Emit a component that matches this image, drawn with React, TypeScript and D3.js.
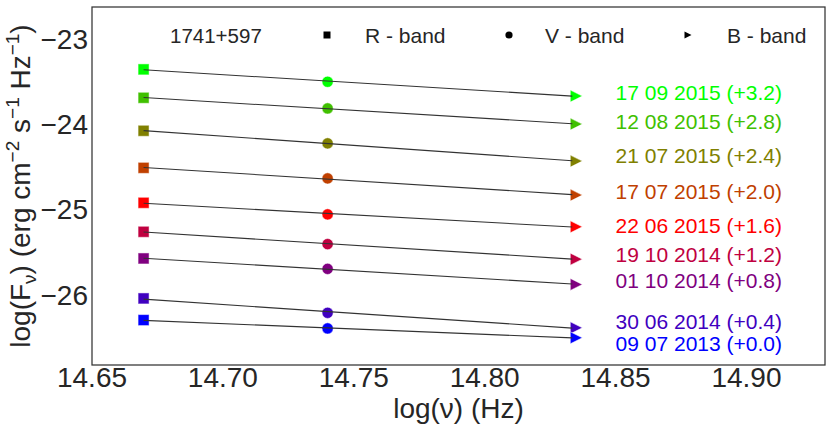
import React from 'react';
import * as d3 from 'd3';

// log frequency of the three bands
const bandNames = ['R - band', 'V - band', 'B - band'];
const bandFreq = [14.6697, 14.74, 14.835];

// epochs, top to bottom
const dates = [
  '17 09 2015 (+3.2)',
  '12 08 2015 (+2.8)',
  '21 07 2015 (+2.4)',
  '17 07 2015 (+2.0)',
  '22 06 2015 (+1.6)',
  '19 10 2014 (+1.2)',
  '01 10 2014 (+0.8)',
  '30 06 2014 (+0.4)',
  '09 07 2013 (+0.0)',
];
const colors = [
  '#00ff00', '#40c000', '#808000', '#c04000', '#ff0000',
  '#c00040', '#800080', '#4000c0', '#0000ff',
];

// log(F_nu) per band (with offsets already added)
const rFlux = [-23.352, -23.685, -24.072, -24.507, -24.917, -25.257, -25.57, -26.039, -26.293];
const vFlux = [-23.497, -23.81, -24.22, -24.631, -25.053, -25.402, -25.692, -26.208, -26.391];
const bFlux = [-23.665, -23.994, -24.428, -24.827, -25.199, -25.578, -25.875, -26.384, -26.501];

// where the date labels sit
const labelX = 14.85;
const labelY = [-23.627, -23.959, -24.366, -24.78, -25.179, -25.523, -25.832, -26.305, -26.567];

const xTicks = [14.65, 14.7, 14.75, 14.8, 14.85, 14.9];
const yTicks = [-23, -24, -25, -26];

const W = 830;
const H = 429;
const m = { left: 92, right: 5, top: 7, bottom: 64 };
const font = '"Liberation Sans", Arial, sans-serif';
const ink = '#262626';

const fit = (xs: number[], ys: number[]) => {
  const mx = d3.mean(xs)!;
  const my = d3.mean(ys)!;
  const sxy = d3.sum(xs, (x, i) => (x - mx) * (ys[i] - my));
  const sxx = d3.sum(xs, (x) => (x - mx) ** 2);
  const b = sxy / sxx;
  return (x: number) => my + b * (x - mx);
};

const App: React.FC = () => {
  const x = d3.scaleLinear([14.65, 14.93], [m.left, W - m.right]);
  const y = d3.scaleLinear([-26.82, -22.62], [H - m.bottom, m.top]);

  const sq = 11;
  const tri = (cx: number, cy: number, s: number) =>
    `M${cx - s / 2},${cy - s / 2}L${cx + s / 2},${cy}L${cx - s / 2},${cy + s / 2}Z`;
  const edge = { stroke: 'white', strokeOpacity: 0.5, strokeWidth: 1 };

  const legendY = 35;
  const legend = [
    { mx: 327, tx: 365 },
    { mx: 509, tx: 545 },
    { mx: 688, tx: 727 },
  ];

  return (
    <div style={{ position: 'fixed', left: 0, top: 0 }}>
      <svg width={W} height={H} style={{ display: 'block', background: 'white' }} fontFamily={font}>
        {dates.map((d, i) => (
          <g key={d} fill={colors[i]}>
            <rect x={x(bandFreq[0]) - sq / 2} y={y(rFlux[i]) - sq / 2} width={sq} height={sq} {...edge} />
            <circle cx={x(bandFreq[1])} cy={y(vFlux[i])} r={5.6} {...edge} />
            <path d={tri(x(bandFreq[2]), y(bFlux[i]), 12)} {...edge} />
            <text x={x(labelX)} y={y(labelY[i])} dominantBaseline="central" fontSize={21}>{d}</text>
          </g>
        ))}
        {/* fitted lines, drawn over the markers */}
        {dates.map((d, i) => {
          const f = fit(bandFreq, [rFlux[i], vFlux[i], bFlux[i]]);
          const x0 = bandFreq[0];
          const x1 = x.invert(x(bandFreq[2]) - 4);
          return (
            <line key={'t' + d}
              x1={x(x0)} y1={y(f(x0))}
              x2={x(x1)} y2={y(f(x1))}
              stroke="#333" strokeWidth={1.1} />
          );
        })}

        {/* legend */}
        <text x={170} y={legendY} dominantBaseline="central" fontSize={20.5} fill={ink}>1741+597</text>
        <rect x={legend[0].mx - 3.5} y={legendY - 3.5} width={7} height={7} fill="black" />
        <circle cx={legend[1].mx} cy={legendY} r={3.6} fill="black" />
        <path d={tri(legend[2].mx, legendY, 7)} fill="black" />
        {bandNames.map((b, i) => (
          <text key={b} x={legend[i].tx} y={legendY} dominantBaseline="central" fontSize={21} fill={ink}>{b}</text>
        ))}

        {/* frame */}
        <rect x={m.left} y={m.top} width={W - m.left - m.right} height={H - m.top - m.bottom}
          fill="none" stroke="#333" strokeWidth={1.25} />

        {/* ticks */}
        {xTicks.map((t) => (
          <text key={t} x={x(t)} y={387} textAnchor="middle" fontSize={28} fill={ink}>{t.toFixed(2)}</text>
        ))}
        {yTicks.map((t) => (
          <text key={t} x={88} y={y(t)} textAnchor="end" dominantBaseline="central" fontSize={28} fill={ink}>
            {'\u2212' + Math.abs(t)}
          </text>
        ))}

        {/* axis titles */}
        <text x={(m.left + W - m.right) / 2} y={418} textAnchor="middle" fontSize={28} fill={ink}>log(ν) (Hz)</text>
        <text transform={`translate(30,${(m.top + H - m.bottom) / 2}) rotate(-90)`} textAnchor="middle" fontSize={28} fill={ink}>
          log(F<tspan fontSize={19} dy={6}>ν</tspan><tspan dy={-6}>) (erg cm</tspan>
          <tspan fontSize={19} dy={-11}>−2</tspan>
          <tspan dy={11}> s</tspan>
          <tspan fontSize={19} dy={-11}>−1</tspan>
          <tspan dy={11}> Hz</tspan>
          <tspan fontSize={19} dy={-11}>−1</tspan>
          <tspan dy={11}>)</tspan>
        </text>
      </svg>
    </div>
  );
};

export default App;
